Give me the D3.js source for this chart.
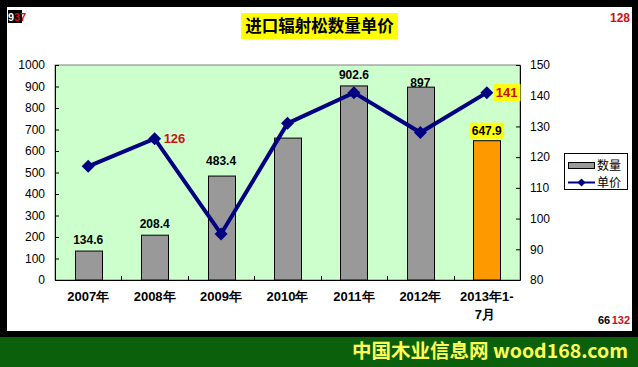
<!DOCTYPE html>
<html><head><meta charset="utf-8">
<script src="https://cdn.jsdelivr.net/npm/d3@7/dist/d3.min.js"></script>
<style>
html,body{margin:0;padding:0;background:#fff;}
svg{display:block;}
</style>
</head><body>
<svg id="c" width="638" height="367"></svg>
<script>
const categories = ["2007年","2008年","2009年","2010年","2011年","2012年","2013年1-|7月"];
const quantity = [134.6, 208.4, 483.4, 660, 902.6, 897, 647.9];
const quantityLabels = ["134.6","208.4","483.4","","902.6","897","647.9"];
const price = [117, 126, 95, 131, 141, 128, 141];
const priceLabels = ["","126","","","","","141"];
const leftTicks = [0,100,200,300,400,500,600,700,800,900,1000];
const rightTicks = [80,90,100,110,120,130,140,150];
const title = "进口辐射松数量单价";
const legendNames = ["数量","单价"];
const banner = "中国木业信息网 wood168.com";

const svg = d3.select("#c");
const W = 638, H = 367;
const numFont = "'Liberation Sans', Arial, sans-serif";
const cjkFont = "'Noto Sans CJK SC', sans-serif";

// frame
svg.append("rect").attr("x",0).attr("y",0).attr("width",W).attr("height",H).attr("fill","#000");
svg.append("rect").attr("x",7).attr("y",7).attr("width",625).attr("height",324).attr("fill","#fff");
svg.append("rect").attr("x",0).attr("y",337).attr("width",W).attr("height",30).attr("fill","#0b600b");

const plot = {l:55, r:520, t:65, b:280};
const xb = d3.scaleBand().domain(d3.range(categories.length)).range([plot.l, plot.r]);
const yL = d3.scaleLinear().domain([0,1000]).range([plot.b, plot.t]);
const yR = d3.scaleLinear().domain([80,150]).range([plot.b, plot.t]);

svg.append("rect").attr("x",plot.l).attr("y",plot.t).attr("width",plot.r-plot.l).attr("height",plot.b-plot.t)
  .attr("fill","#ccffcc").attr("stroke","#808080").attr("stroke-width",1);

// bars
const cx = i => xb(i) + xb.bandwidth()/2;
const bw = 27;
svg.selectAll("rect.bar").data(quantity).enter().append("rect").attr("class","bar")
  .attr("x",(d,i)=>Math.round(cx(i)-bw/2)+0.5).attr("width",bw)
  .attr("y",d=>yL(d)).attr("height",d=>plot.b-yL(d))
  .attr("fill",(d,i)=> i===quantity.length-1 ? "#ff9900" : "#999999")
  .attr("stroke","#000").attr("stroke-width",1);

// axes
const gL = svg.append("g").attr("transform",`translate(${plot.l},0)`)
  .call(d3.axisLeft(yL).tickValues(leftTicks).tickFormat(d3.format("d")).tickSize(-4).tickPadding(10));
const gR = svg.append("g").attr("transform",`translate(${plot.r},0)`)
  .call(d3.axisRight(yR).tickValues(rightTicks).tickFormat(d3.format("d")).tickSize(-4).tickPadding(10));
[gL,gR].forEach(g=>{
  g.select(".domain").attr("stroke","#000");
  g.selectAll(".tick line").attr("stroke","#000");
  g.selectAll(".tick text").attr("font-family",numFont).attr("font-size","12px").attr("fill","#000");
});
// bottom axis
svg.append("line").attr("x1",plot.l).attr("x2",plot.r).attr("y1",plot.b+0.5).attr("y2",plot.b+0.5).attr("stroke","#000");
svg.selectAll("line.xt").data(d3.range(categories.length+1)).enter().append("line")
  .attr("x1",i=>Math.round(plot.l + i*xb.step())+0.5).attr("x2",i=>Math.round(plot.l + i*xb.step())+0.5)
  .attr("y1",plot.b).attr("y2",plot.b-4).attr("stroke","#000");

// category labels
categories.forEach((c,i)=>{
  const parts = c.split("|");
  const t = svg.append("text").attr("x",cx(i)).attr("y",301).attr("text-anchor","middle")
    .attr("font-family",numFont).attr("font-weight","bold").attr("font-size","13px").attr("fill","#000");
  parts.forEach((p,j)=>{
    t.append("tspan").attr("x", cx(i) + (j>0?-2:0)).attr("dy", j===0?0:18).text(p);
  });
});

// line
const line = d3.line().x((d,i)=>cx(i)).y(d=>yR(d));
svg.append("path").datum(price).attr("d",line).attr("fill","none").attr("stroke","#000080").attr("stroke-width",4).attr("stroke-linejoin","miter");
svg.selectAll("path.mk").data(price).enter().append("path")
  .attr("d",(d,i)=>{const X=cx(i),Y=yR(d),s=6.5;return `M${X},${Y-s}L${X+s},${Y}L${X},${Y+s}L${X-s},${Y}Z`;})
  .attr("fill","#000080");

// bar labels
const labelDy = [-7,-7,-11,-7,-7,0,-6];
quantityLabels.forEach((t,i)=>{
  if(!t) return;
  const yy = yL(quantity[i]) + labelDy[i];
  const tx = svg.append("text").attr("x",cx(i)).attr("y",yy).attr("text-anchor","middle")
    .attr("font-family",numFont).attr("font-weight","bold").attr("font-size","12px").attr("fill","#000").text(t);
  if(i===quantity.length-1){
    const bb = tx.node().getBBox();
    svg.insert("rect", () => tx.node()).attr("x",bb.x-2).attr("y",bb.y-1).attr("width",bb.width+4).attr("height",bb.height+2).attr("fill","#ffff00");
  }
});
// price labels
priceLabels.forEach((t,i)=>{
  if(!t) return;
  const X = cx(i)+9, Y = yR(price[i])+4.5;
  const tx = svg.append("text").attr("x",X).attr("y",Y)
    .attr("font-family",numFont).attr("font-weight","bold").attr("font-size","13px").attr("fill","#cc1111").text(t);
  if(i===price.length-1){
    const bb = tx.node().getBBox();
    svg.insert("rect", () => tx.node()).attr("x",bb.x-2).attr("y",bb.y-1).attr("width",bb.width+5).attr("height",bb.height+2).attr("fill","#ffff00");
  }
});

// title
svg.append("rect").attr("x",241).attr("y",13).attr("width",157).attr("height",26).attr("fill","#ffff00");
svg.append("text").attr("x",319.5).attr("y",32).attr("text-anchor","middle")
  .attr("font-family",cjkFont).attr("font-weight","bold").attr("font-size","16.5px").attr("fill","#000").text(title);

// legend
const lg = svg.append("g");
lg.append("rect").attr("x",564.5).attr("y",153.5).attr("width",63).attr("height",36).attr("fill","#fff").attr("stroke","#000");
lg.append("rect").attr("x",568.5).attr("y",162.5).attr("width",26).attr("height",6).attr("fill","#999999").attr("stroke","#000");
lg.append("line").attr("x1",568).attr("x2",595).attr("y1",182.5).attr("y2",182.5).attr("stroke","#000080").attr("stroke-width",2);
lg.append("path").attr("d","M581.5,178.5L585.5,182.5L581.5,186.5L577.5,182.5Z").attr("fill","#000080");
lg.selectAll("text.lg").data(legendNames).enter().append("text")
  .attr("x",597).attr("y",(d,i)=>170+i*17)
  .attr("font-family",cjkFont).attr("font-size","12px").attr("fill","#000").text(d=>d);

// stray artifact texts
svg.append("rect").attr("x",8).attr("y",10).attr("width",14).attr("height",13).attr("fill","#000");
svg.append("text").attr("x",8).attr("y",21).attr("font-family",numFont).attr("font-weight","bold").attr("font-size","11px").attr("fill","#fff").text("9");
svg.append("text").attr("x",14).attr("y",21).attr("font-family",numFont).attr("font-weight","bold").attr("font-size","11px").attr("fill","#cc1111").text("37");
svg.append("text").attr("x",630).attr("y",22).attr("text-anchor","end").attr("font-family",numFont).attr("font-weight","bold").attr("font-size","12px").attr("fill","#cc1111").text("128");
svg.append("text").attr("x",598).attr("y",324).attr("font-family",numFont).attr("font-weight","bold").attr("font-size","11px").attr("fill","#000").text("66");
svg.append("text").attr("x",630).attr("y",324).attr("text-anchor","end").attr("font-family",numFont).attr("font-weight","bold").attr("font-size","11px").attr("fill","#cc1111").text("132");

// banner
svg.append("text").attr("x",628).attr("y",358).attr("text-anchor","end")
  .attr("font-family",cjkFont).attr("font-weight","bold").attr("font-size","19.5px").attr("fill","#ffff55").text(banner);
</script>
</body></html>
